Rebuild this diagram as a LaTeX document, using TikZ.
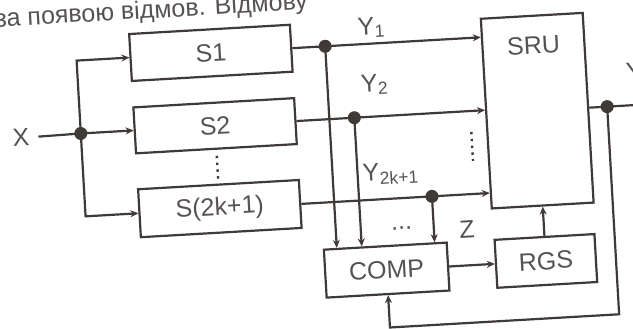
\documentclass[tikz,border=0pt]{standalone}
\usepackage{fontspec}
\setmainfont{Liberation Sans}
\usetikzlibrary{arrows.meta}
\definecolor{ink}{HTML}{3F3938}
\definecolor{txt}{HTML}{575252}

\begin{document}
\begin{tikzpicture}[x=1pt, y=-1pt,
  blk/.style={draw=ink, line width=2.2pt, inner sep=0pt, text=txt, font=\fontsize{25}{30}\selectfont},
  lbl/.style={inner sep=0pt, text=txt, font=\fontsize{25}{30}\selectfont},
  wire/.style={draw=ink, line width=2.2pt},
  arr/.style={wire, -{Stealth[length=8pt, width=7pt]}},
  dotline/.style={draw=ink, line width=2.4pt, dash pattern=on 2.4pt off 4.4pt}]
\useasboundingbox (0,0) rectangle (633,329);
\begin{scope}[rotate around={3.3:(316,165)}, transform shape]
% line of the page text above the figure
\node[lbl, anchor=base west] (cap) at (4,9) {за появою відмов. Відмову};
% channels
\node[blk, minimum width=161pt, minimum height=47pt] (s1) at (217.5,47) {S1};
\node[blk, minimum width=161pt, minimum height=46pt] (s2) at (217.5,120) {S2};
\node[blk, minimum width=161pt, minimum height=48pt] (s3) at (217.5,203) {S(2k+1)};
\draw[dotline] ([yshift=-6pt]s2.south) -- ([yshift=4pt]s3.north);
% voter and register
\node[blk, minimum width=102pt, minimum height=190pt] (sru) at (540,123.5) {};
\node[lbl] (srut) at (540,58) {SRU};
\node[blk, minimum width=123pt, minimum height=48pt] (comp) at (380.5,274) {COMP};
\node[blk, minimum width=100pt, minimum height=48pt] (rgs) at (540,274) {RGS};
% input
\node[lbl] (x) at (23,121) {X};
\coordinate (jx) at (83,120);
\draw[wire, shorten <=9pt] (x) -- (jx);
\draw[arr] (jx) -- (s2.west);
\draw[arr] (jx) |- (s1.west);
\draw[arr] (jx) |- (s3.west);
% outputs of the channels
\coordinate (j1) at (332,47);
\coordinate (j2) at (357,120);
\coordinate (j3) at (430,203);
\draw[arr] (s1.east) -- (s1.east -| sru.west);
\draw[arr] (s2.east) -- (s2.east -| sru.west);
\draw[arr] (s3.east) -- (s3.east -| sru.west);
\draw[arr] (j1) -- (j1 |- comp.north);
\draw[arr] (j2) -- (j2 |- comp.north);
\draw[arr] (j3) -- (j3 |- comp.north);
\node[lbl] (y1) at (379,31) {Y\textsubscript{1}};
\node[lbl] (y2) at (379,88) {Y\textsubscript{2}};
\node[lbl] (yk) at (390,178) {Y\textsubscript{2k+1}};
\node[lbl] (dd) at (398,233) {...};
\node[lbl] (z) at (463,238) {Z};
\draw[dotline] (473,141) -- (473,170);
% compare, store, feed back
\draw[arr] (comp.east) -- (rgs.west);
\draw[arr] (rgs.north) -- (sru.south);
\coordinate (jo) at ([xshift=18pt]sru.east);
\coordinate (yo) at ([xshift=50pt]sru.east);
\draw[wire] (sru.east) -- (yo);
\node[lbl] (y) at (639,90) {Y};
\draw[arr] (jo) -- ++(0,208) -| (comp.south);
\foreach \j in {jx,j1,j2,j3,jo}
  \fill[ink] (\j) circle (6.5pt);
\end{scope}
\end{tikzpicture}
\end{document}
